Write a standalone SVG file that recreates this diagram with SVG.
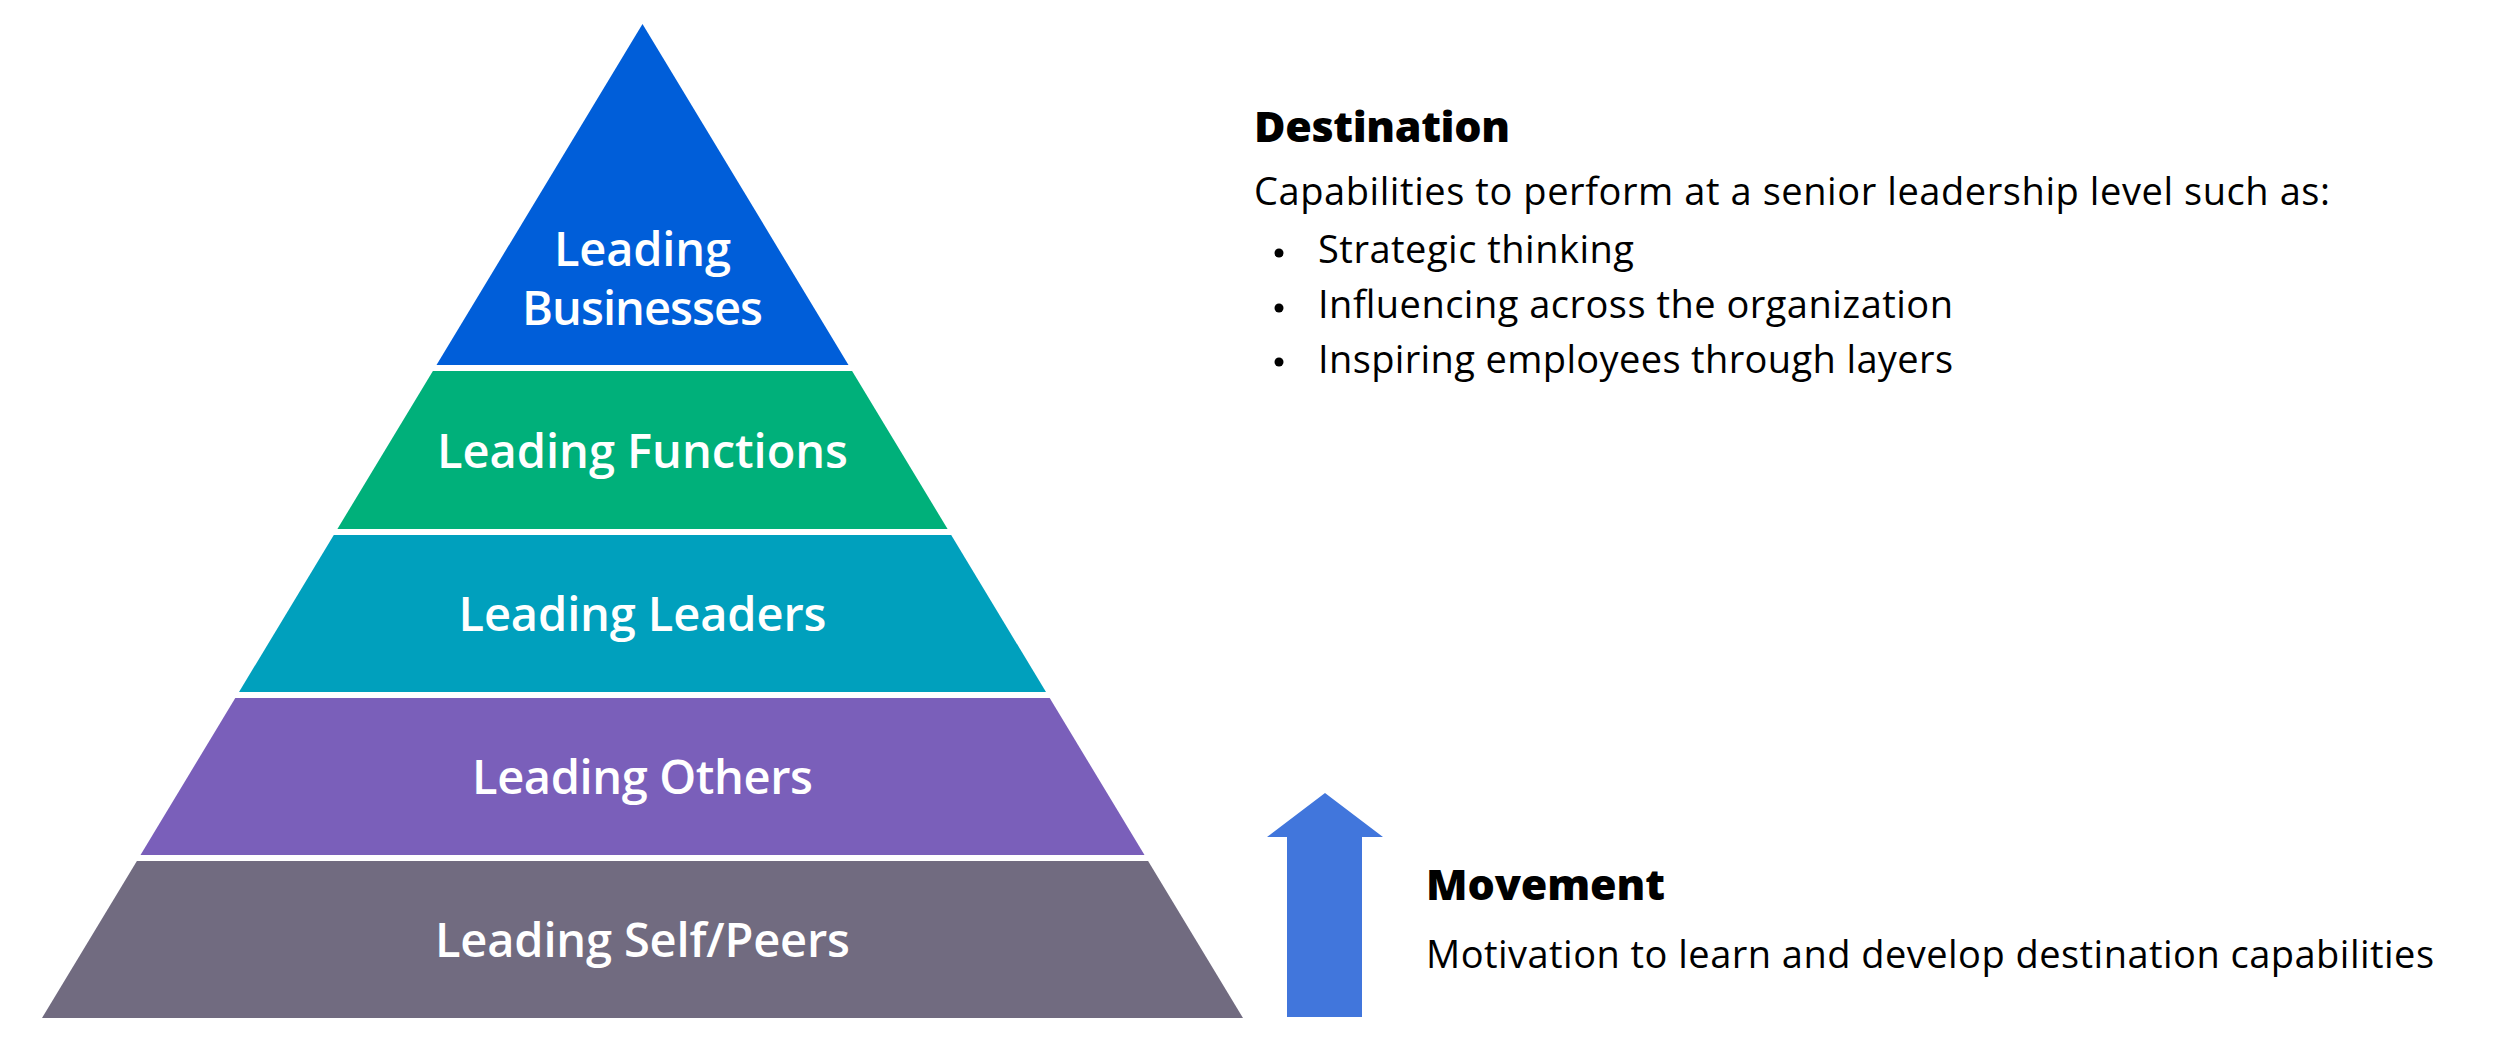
<svg xmlns="http://www.w3.org/2000/svg" width="2500" height="1054" viewBox="0 0 2500 1054">
<style>
.lbl{font-family:"Open Sans","Noto Sans","Liberation Sans",sans-serif;font-weight:600;font-size:47px;fill:#ffffff;text-anchor:middle}
.hd{font-family:"Open Sans","Noto Sans","Liberation Sans",sans-serif;font-weight:800;font-size:43px;fill:#000000}
.bd{font-family:"Open Sans","Noto Sans","Liberation Sans",sans-serif;font-weight:400;font-size:38px;fill:#000000}
</style>
<rect width="2500" height="1054" fill="#ffffff"/>
<g id="level-businesses">
<polygon points="642.5,24 848.5,365 436.5,365" fill="#005ED9"/>
<text class="lbl" x="642.5" y="266" textLength="177" lengthAdjust="spacing">Leading</text>
<text class="lbl" x="642.5" y="325" textLength="241" lengthAdjust="spacing">Businesses</text>
</g>
<g id="level-functions">
<polygon points="432.9,371 852.1,371 947.6,529 337.4,529" fill="#00B07A"/>
<text class="lbl" x="642.5" y="468" textLength="411" lengthAdjust="spacing">Leading Functions</text>
</g>
<g id="level-leaders">
<polygon points="333.8,535 951.2,535 1046,692 239,692" fill="#00A0BD"/>
<text class="lbl" x="642.5" y="631" textLength="368" lengthAdjust="spacing">Leading Leaders</text>
</g>
<g id="level-others">
<polygon points="235.3,698 1049.7,698 1144.5,855 140.5,855" fill="#7A5FBA"/>
<text class="lbl" x="642.5" y="794" textLength="341" lengthAdjust="spacing">Leading Others</text>
</g>
<g id="level-self">
<polygon points="136.9,861 1148.1,861 1243,1018 42,1018" fill="#716B80"/>
<text class="lbl" x="642.5" y="957" textLength="415" lengthAdjust="spacing">Leading Self/Peers</text>
</g>
<g id="destination">
<text class="hd" x="1254" y="142" textLength="256" lengthAdjust="spacing">Destination</text>
<text class="bd" x="1254" y="205" textLength="1076" lengthAdjust="spacing">Capabilities to perform at a senior leadership level such as:</text>
<circle cx="1279" cy="253" r="4.5" fill="#000"/>
<text class="bd" x="1318" y="263" textLength="316" lengthAdjust="spacing">Strategic thinking</text>
<circle cx="1279" cy="308" r="4.5" fill="#000"/>
<text class="bd" x="1318" y="318" textLength="635" lengthAdjust="spacing">Influencing across the organization</text>
<circle cx="1279" cy="362" r="4.5" fill="#000"/>
<text class="bd" x="1318" y="373" textLength="635" lengthAdjust="spacing">Inspiring employees through layers</text>
</g>
<g id="movement">
<text class="hd" x="1426" y="900" textLength="239" lengthAdjust="spacing">Movement</text>
<text class="bd" x="1426" y="968" textLength="1008" lengthAdjust="spacing">Motivation to learn and develop destination capabilities</text>
</g>
<g id="connectors">
<polygon id="arrow-up" points="1325,793 1383,837 1362,837 1362,1017 1287,1017 1287,837 1267,837" fill="#4176DC"/>
</g>
</svg>
